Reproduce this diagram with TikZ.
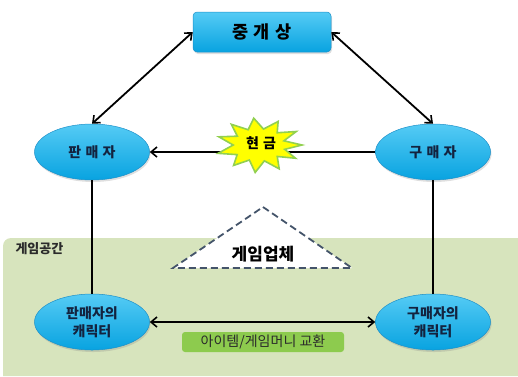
\documentclass[tikz,border=0pt]{standalone}
\usepackage{fontspec}
\setmainfont{Noto Sans CJK KR}
\usetikzlibrary{arrows.meta,shapes.geometric,shadows}

\definecolor{band}{HTML}{D7E4BD}
\definecolor{cyanA}{HTML}{55CBF5}
\definecolor{cyanB}{HTML}{08A3E0}
\definecolor{cyanE}{HTML}{1E90C8}
\definecolor{navy}{HTML}{13233F}
\definecolor{lbl}{HTML}{8DCB4E}
\definecolor{tri}{HTML}{44546A}
\definecolor{staryellow}{HTML}{FFFF00}
\definecolor{stargreen}{HTML}{92D050}
\definecolor{darktext}{HTML}{2B2B2B}

\begin{document}
\begin{tikzpicture}[x=1pt,y=-1pt,
  >={Straight Barb[length=6pt,width=10pt,line width=1.6pt]},
  actor/.style={ellipse, draw=cyanE, line width=0.5pt, top color=cyanA, bottom color=cyanB,
    minimum width=115pt, minimum height=56pt, inner sep=0pt, text=navy, align=center,
    font=\bfseries\fontsize{14}{18}\selectfont,
    drop shadow={opacity=0.25, shadow xshift=1pt, shadow yshift=-2pt}},
  hub/.style={rectangle, rounded corners=4pt, draw=cyanE, line width=0.5pt,
    top color=cyanA, bottom color=cyanB, minimum width=138pt, minimum height=40pt,
    inner sep=0pt, text=black, font=\bfseries\fontsize{17.5}{20}\selectfont,
    drop shadow={opacity=0.25, shadow xshift=1pt, shadow yshift=-2pt}},
  link/.style={line width=1.8pt, black},
  burstline/.style={fill=staryellow, draw=stargreen, line width=1.6pt, line join=miter},
  cashtext/.style={text=black, font=\bfseries\fontsize{14}{16}\selectfont},
  tag/.style={fill=lbl, rounded corners=3pt, minimum width=162pt, minimum height=20pt,
    inner sep=0pt, text=darktext, font=\fontsize{14}{16}\selectfont},
  zone/.style={text=darktext, font=\bfseries\fontsize{13}{15}\selectfont},
  company/.style={text=black, font=\bfseries\fontsize{17}{19}\selectfont}
]
\useasboundingbox (0,0) rectangle (518,376);

% game space band
\fill[band] (3,376) -- (3,246) arc[start angle=180, end angle=270, radius=8] -- (518,238) -- (518,376) -- cycle;
\node[zone, anchor=west] (space) at (12,249) {게임공간};

% company triangle
\draw[tri, line width=1.8pt, dash pattern=on 7pt off 4pt, fill=white] (263,207) -- (352,268) -- (173,268) -- cycle;
\node[company] (firm) at (263,254) {게임업체};

% nodes
\node[hub] (mid) at (262,32) {중\hspace{0.3em}개\hspace{0.3em}상};
\node[actor] (sel) at (92,152) {판\hspace{0.3em}매\hspace{0.3em}자};
\node[actor] (buy) at (433,152) {구\hspace{0.3em}매\hspace{0.3em}자};
\node[actor] (selc) at (92,322) {판매자의\\캐릭터};
\node[actor] (buyc) at (433,322) {구매자의\\캐릭터};

% connectors
\draw[link,<->] (mid.west) -- (sel.north);
\draw[link,<->] (mid.east) -- (buy.north);
\draw[link,->] (buy) -- (sel);
\draw[link] (sel) -- (selc);
\draw[link] (buy) -- (buyc);
\draw[link,<->] (selc) -- (buyc);

% cash burst
\filldraw[burstline] ({259+43},145)
  \foreach \a/\r in {15/0.62, 30/0.98, 45/0.6, 62/1.0, 78/0.6, 95/1.02, 112/0.6, 128/0.96,
                     145/0.62, 162/1.0, 180/0.6, 198/0.98, 213/0.6, 230/1.0, 246/0.62,
                     263/1.0, 280/0.6, 297/0.98, 313/0.62, 330/1.0, 345/0.6}
  { -- ({259+43*\r*cos(\a)},{145+27*\r*sin(\a)}) } -- cycle;
\node[cashtext] (cash) at (261,143) {현\hspace{0.3em}금};

% exchange label
\node[tag] (swap) at (263,342) {아이템/게임머니 교환};
\end{tikzpicture}
\end{document}
